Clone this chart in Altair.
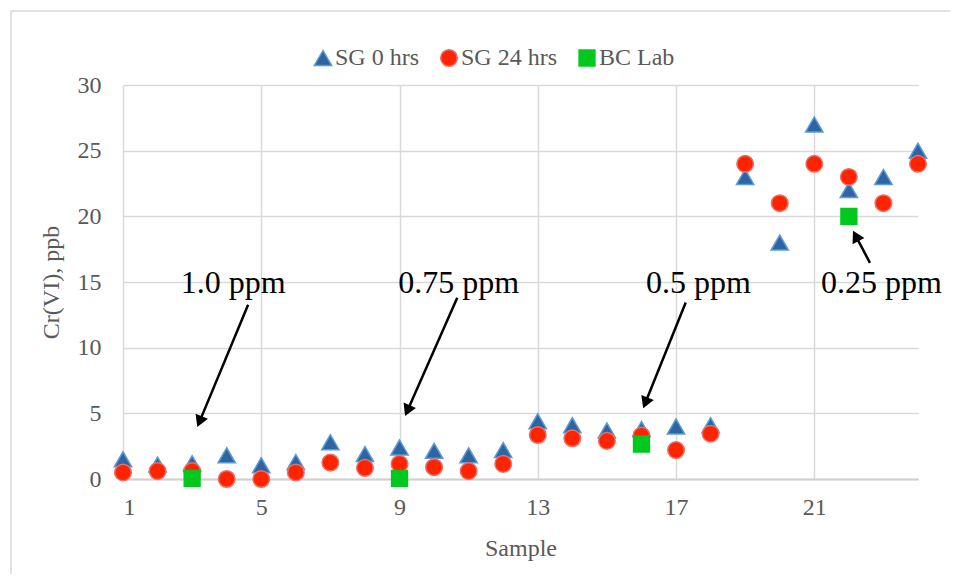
import math
import altair as alt
import pandas as pd

# ---------------- data ----------------
samples = list(range(1, 25))
sg_0hrs = [1.5, 1.1, 1.2, 1.8, 1.05, 1.3, 2.8, 1.9, 2.4, 2.15, 1.8, 2.2,
           4.4, 4.1, 3.7, 3.8, 4.0, 4.1, 23, 18, 27, 22, 23, 25]
sg_24hrs = [0.5, 0.6, 0.6, 0.0, 0.0, 0.5, 1.25, 0.85, 1.15, 0.9, 0.6, 1.15,
            3.35, 3.1, 2.9, 3.3, 2.2, 3.45, 24, 21, 24, 23, 21, 24]
bc_lab = [None, None, 0.05, None, None, None, None, None, 0.05, None, None, None,
          None, None, None, 2.65, None, None, None, None, None, 20, None, None]

series_names = ["SG 0 hrs", "SG 24 hrs", "BC Lab"]
series_fill = ["#2E64A2", "#FF2400", "#00C81E"]
series_stroke = ["#5B9BD5", "#E8706A", "#00C81E"]
series_shape = ["triangle-up", "circle", "square"]
series_size = [300, 250, 210]

x_ticks = [1, 5, 9, 13, 17, 21]
y_ticks = [0, 5, 10, 15, 20, 25, 30]

# annotations (data coordinates)
ann_labels = ["1.0 ppm", "0.75 ppm", "0.5 ppm", "0.25 ppm"]
ann_text_x = [4.19, 10.71, 17.65, 22.94]
ann_text_y = [14.18, 14.18, 14.18, 14.18]
arrow_tail_x = [4.62, 10.67, 17.28, 22.61]
arrow_tail_y = [13.26, 13.80, 13.44, 16.46]
arrow_tip_x = [3.15, 9.16, 16.05, 22.12]
arrow_tip_y = [3.96, 4.80, 5.39, 18.90]

# ---------------- layout ----------------
W, H = 795, 394
X_DOM = [1, 24]
Y_DOM = [0, 30]
FONT = "Liberation Serif"
GREY = "#595959"

rows = []
for name, vals in zip(series_names, [sg_0hrs, sg_24hrs, bc_lab]):
    for s, v in zip(samples, vals):
        if v is not None:
            rows.append({"Sample": s, "value": v, "series": name})
df = pd.DataFrame(rows)

# arrow geometry: compute head orientation in pixel space from the scales
sx = W / (X_DOM[1] - X_DOM[0])
sy = H / (Y_DOM[1] - Y_DOM[0])
HEAD_SIZE = 180
head_h = math.sqrt(3) / 2 * math.sqrt(HEAD_SIZE) / 2
arr_rows = []
for tx, ty, hx, hy in zip(arrow_tail_x, arrow_tail_y, arrow_tip_x, arrow_tip_y):
    dx = (hx - tx) * sx
    dy = -(hy - ty) * sy  # screen y downward
    L = math.hypot(dx, dy)
    ux, uy = dx / L, dy / L
    ang = math.degrees(math.atan2(dx, -dy)) % 360
    cx = hx - ux * head_h / sx
    cy = hy + uy * head_h / sy
    arr_rows.append({"Sample": tx, "value": ty, "Sample2": cx, "value2": cy,
                     "hx": cx, "hy": cy, "angle": ang})
arr_df = pd.DataFrame(arr_rows)
text_df = pd.DataFrame({"Sample": ann_text_x, "value": ann_text_y, "label": ann_labels})

x_axis = alt.Axis(values=x_ticks, grid=True, ticks=False, domain=True,
                  labelPadding=16, titlePadding=17)
y_axis = alt.Axis(values=y_ticks, grid=True, ticks=False, domain=False,
                  labelPadding=22, titlePadding=14)
x_scale = alt.Scale(domain=X_DOM, nice=False, zero=False)
y_scale = alt.Scale(domain=Y_DOM, nice=False, zero=False)


def X(field):
    return alt.X(field, scale=x_scale, axis=x_axis, title="Sample")


def Y(field):
    return alt.Y(field, scale=y_scale, axis=y_axis, title="Cr(VI), ppb")


legend = alt.Legend(title=None, orient="none", legendX=188, legendY=-39,
                    direction="horizontal", columnPadding=17, labelOffset=0,
                    symbolSize=210, symbolStrokeWidth=1.5,
                    labelFont=FONT, labelFontSize=24, labelColor=GREY)

points = alt.Chart(df).mark_point(filled=True, opacity=1, strokeWidth=1.5).encode(
    x=X("Sample:Q"),
    y=Y("value:Q"),
    color=alt.Color("series:N", scale=alt.Scale(domain=series_names, range=series_fill), legend=legend),
    shape=alt.Shape("series:N", scale=alt.Scale(domain=series_names, range=series_shape), legend=legend),
    stroke=alt.Stroke("series:N", scale=alt.Scale(domain=series_names, range=series_stroke), legend=legend),
    size=alt.Size("series:N", scale=alt.Scale(domain=series_names, range=series_size), legend=None),
)

texts = alt.Chart(text_df).mark_text(font=FONT, fontSize=32, color="black",
                                     baseline="alphabetic", align="center").encode(
    x=X("Sample:Q"), y=Y("value:Q"), text="label:N")

shafts = alt.Chart(arr_df).mark_rule(color="black", strokeWidth=2.5).encode(
    x=X("Sample:Q"), y=Y("value:Q"),
    x2=alt.X2("Sample2:Q", title="Sample"), y2=alt.Y2("value2:Q", title="Cr(VI), ppb"))

heads = alt.Chart(arr_df).mark_point(shape="triangle-up", filled=True, color="black",
                                     opacity=1, size=HEAD_SIZE).encode(
    x=X("hx:Q"), y=Y("hy:Q"), angle=alt.Angle("angle:Q", scale=None))

one = pd.DataFrame({"a": [0]})
border_left = alt.Chart(one).mark_rule(color="#d9d9d9", strokeWidth=1.5).encode(
    x=alt.value(-112), y=alt.value(-74), y2=alt.value(489))
border_top = alt.Chart(one).mark_rule(color="#d9d9d9", strokeWidth=1.5).encode(
    x=alt.value(-112), x2=alt.value(827), y=alt.value(-74))

chart = alt.layer(border_left, border_top, points, shafts, heads, texts).properties(
    width=W, height=H,
    autosize=alt.AutoSizeParams(type="none"),
    padding={"left": 115, "top": 77, "right": 32, "bottom": 95},
    background="white",
).configure_view(stroke=None).configure_axis(
    gridColor="#d9d9d9", gridWidth=1.5,
    domainColor="#d0d0d0", domainWidth=2,
    labelFont=FONT, labelFontSize=24, labelColor=GREY,
    titleFont=FONT, titleFontSize=24, titleFontWeight="normal", titleColor=GREY,
)

chart.save("out.html", embed_options={"renderer": "svg", "actions": False})
